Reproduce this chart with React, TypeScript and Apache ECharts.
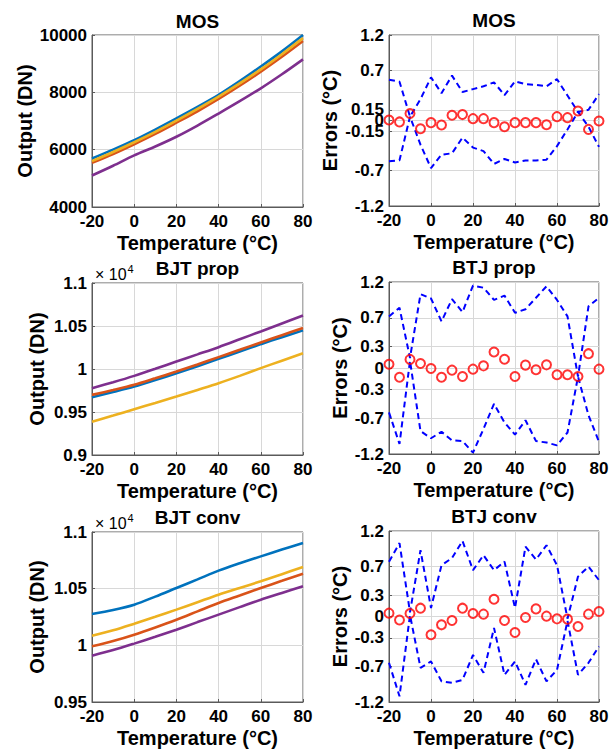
import React, { useEffect, useRef } from 'react';
import * as echarts from 'echarts';

// ---------- data ----------
const tempLine = [-20, -10, 0, 10, 20, 30, 40, 50, 60, 70, 80];
const tempErr = [-20, -15, -10, -5, 0, 5, 10, 15, 20, 25, 30, 35, 40, 45, 50, 55, 60, 65, 70, 75, 80];

// MOS output (DN)
const mosBlue = [5690, 6000, 6330, 6700, 7090, 7490, 7910, 8390, 8900, 9430, 10000];
const mosOrange = [5540, 5850, 6190, 6550, 6940, 7340, 7770, 8230, 8720, 9240, 9790];
const mosYellow = [5600, 5920, 6260, 6620, 7010, 7420, 7850, 8310, 8800, 9330, 9890];
const mosPurple = [5100, 5440, 5800, 6110, 6450, 6840, 7260, 7690, 8140, 8630, 9150];

// BJT prop output (DN)
const propBlue = [9672, 9732, 9796, 9872, 9951, 10033, 10118, 10203, 10289, 10370, 10449];
const propOrange = [9699, 9755, 9816, 9892, 9971, 10053, 10138, 10223, 10309, 10393, 10476];
const propYellow = [9388, 9458, 9532, 9605, 9680, 9757, 9835, 9920, 10010, 10097, 10184];
const propPurple = [9777, 9846, 9920, 10002, 10087, 10170, 10254, 10345, 10437, 10530, 10623];

// BJT conv output (DN)
const convBlue = [10276, 10312, 10359, 10430, 10506, 10582, 10659, 10724, 10785, 10845, 10903];
const convOrange = [9991, 10038, 10094, 10158, 10226, 10300, 10374, 10440, 10506, 10569, 10632];
const convYellow = [10085, 10133, 10191, 10252, 10315, 10381, 10447, 10506, 10565, 10628, 10691];
const convPurple = [9909, 9958, 10015, 10075, 10138, 10205, 10271, 10337, 10403, 10462, 10521];

// MOS errors (°C)
const mosErr = [0.007, -0.02, 0.097, -0.115, -0.03, -0.064, 0.073, 0.083, 0.026, 0.026, -0.03, -0.087, -0.03, -0.03, -0.03, -0.06, 0.054, 0.04, 0.134, -0.125, -0.007];
const mosUpper = [0.573, 0.545, 0.054, 0.3, 0.606, 0.384, 0.63, 0.4, 0.44, 0.48, 0.535, 0.356, 0.55, 0.51, 0.5, 0.48, 0.58, 0.35, 0.12, 0.15, 0.37];
const mosLower = [-0.573, -0.559, 0.054, -0.34, -0.667, -0.48, -0.46, -0.24, -0.38, -0.43, -0.61, -0.54, -0.59, -0.56, -0.56, -0.55, -0.36, -0.125, 0.12, -0.087, -0.37];

// BTJ prop errors (°C)
const propErr = [0.053, -0.13, 0.12, 0.062, -0.007, -0.13, -0.03, -0.118, -0.016, 0.03, 0.224, 0.122, -0.118, 0.04, -0.025, 0.044, -0.095, -0.095, -0.118, 0.2, -0.016];
const propUpper = [0.72, 0.84, 0.14, 1.03, 0.97, 0.65, 0.96, 0.78, 1.15, 1.12, 0.95, 1.01, 0.77, 0.82, 0.98, 1.14, 0.95, 0.72, -0.12, 0.86, 0.98];
const propLower = [-0.62, -1.06, 0.1, -0.88, -0.98, -0.89, -1.01, -1.02, -1.18, -0.85, -0.5, -0.76, -0.93, -0.73, -1.02, -1.04, -1.08, -0.9, -0.12, -0.66, -1.03];

// BTJ conv errors (°C)
const convErr = [0.047, -0.05, 0.042, 0.117, -0.257, -0.117, -0.056, 0.117, 0.042, 0.033, 0.243, -0.056, -0.224, -0.014, 0.107, 0.005, -0.033, -0.037, -0.14, 0.033, 0.07];
const convUpper = [0.77, 1.03, 0.06, 0.93, 0.12, 0.72, 0.82, 1.06, 0.65, 0.86, 0.65, 0.77, 0.12, 0.98, 0.8, 1.0, 0.72, -0.03, 0.56, 0.7, 0.51];
const convLower = [-0.65, -1.12, 0.02, -0.72, -0.63, -0.91, -0.93, -0.89, -0.54, -0.79, -0.16, -0.82, -0.63, -0.96, -0.6, -0.91, -0.75, -0.06, -0.82, -0.65, -0.42];

// tick labels
const xTicks = [-20, 0, 20, 40, 60, 80];
const mosErrTicks = [-1.2, -0.7, -0.15, 0, 0.15, 0.7, 1.2];
const bjtErrTicks = [-1.2, -0.7, -0.3, 0, 0.3, 0.7, 1.2];
const titles = ['MOS', 'MOS', 'BJT prop', 'BTJ prop', 'BJT conv', 'BTJ conv'];
const lineColors = ['#0072BD', '#D95319', '#EDB120', '#7E2F8E'];

const FONT = '"Liberation Sans", Arial, Helvetica, sans-serif';

export default function App() {
  const ref = useRef<HTMLDivElement>(null);

  useEffect(() => {
    if (!ref.current) return;
    const chart = echarts.init(ref.current, undefined, { renderer: 'svg' });

    const grids = [
      { left: 92, top: 35, width: 211, height: 172 },
      { left: 389, top: 35, width: 210, height: 171 },
      { left: 92, top: 283, width: 211, height: 172 },
      { left: 389, top: 282, width: 210, height: 172 },
      { left: 92, top: 532, width: 211, height: 170 },
      { left: 389, top: 531, width: 210, height: 171 },
    ].map((g) => ({ ...g, show: true, borderColor: '#5a5a5a', borderWidth: 1, backgroundColor: '#fff' }));

    const labelStyle = { fontFamily: FONT, fontWeight: 'bold' as const, fontSize: 17, color: '#000' };
    const nameStyle = { fontFamily: FONT, fontWeight: 'bold' as const, fontSize: 20, color: '#000' };
    const gridLine = { show: true, lineStyle: { color: '#d8d8d8', width: 1 } };
    const axisLine = { show: true, onZero: false, lineStyle: { color: '#5a5a5a', width: 1 } };

    const xAxes = grids.map((_, i) => ({
      type: 'value' as const,
      gridIndex: i,
      min: xTicks[0],
      max: xTicks[xTicks.length - 1],
      interval: 20,
      name: 'Temperature (°C)',
      nameLocation: 'middle' as const,
      nameGap: 26,
      nameTextStyle: nameStyle,
      axisLine,
      axisTick: { show: true, inside: true, length: 3, lineStyle: { color: '#5a5a5a' } },
      axisLabel: { ...labelStyle, margin: 6, formatter: (v: number) => String(v) },
      splitLine: gridLine,
    }));

    const yNameGaps = [57, 49, 45, 39, 45, 39];
    const yAxes: any[] = grids.map((_, i) => {
      const base: any = {
        type: 'value',
        gridIndex: i,
        nameLocation: 'middle',
        nameGap: yNameGaps[i],
        nameTextStyle: nameStyle,
        axisLine,
        axisTick: { show: true, inside: true, length: 3, lineStyle: { color: '#5a5a5a' } },
        axisLabel: { ...labelStyle, margin: 5, formatter: (v: number) => String(v) },
        splitLine: gridLine,
      };
      if (i % 2 === 0) {
        base.name = 'Output (DN)';
        if (i === 0) {
          base.min = 4000; base.max = 10000; base.interval = 2000;
        } else if (i === 2) {
          base.min = 9000; base.max = 11000; base.interval = 500;
          base.axisLabel.formatter = (v: number) => String(+(v / 10000).toFixed(2));
        } else {
          base.min = 9500; base.max = 11000; base.interval = 500;
          base.axisLabel.formatter = (v: number) => String(+(v / 10000).toFixed(2));
        }
      } else {
        base.name = 'Errors (°C)';
        base.min = -1.2; base.max = 1.2;
        const ticks = i === 1 ? mosErrTicks : bjtErrTicks;
        base.axisLabel.customValues = ticks;
        base.axisTick.customValues = ticks;
      }
      return base;
    });

    const lineSets = [
      [mosBlue, mosOrange, mosYellow, mosPurple],
      [propBlue, propOrange, propYellow, propPurple],
      [convBlue, convOrange, convYellow, convPurple],
    ];
    const errSets = [
      [mosUpper, mosLower, mosErr],
      [propUpper, propLower, propErr],
      [convUpper, convLower, convErr],
    ];

    const series: any[] = [];
    lineSets.forEach((set, r) => {
      set.forEach((vals, k) => {
        series.push({
          type: 'line',
          xAxisIndex: r * 2,
          yAxisIndex: r * 2,
          data: tempLine.map((t, j) => [t, vals[j]]),
          showSymbol: false,
          smooth: 0.3,
          lineStyle: { color: lineColors[k], width: 2.6 },
          z: 2 + k,
        });
      });
    });
    errSets.forEach((set, r) => {
      const idx = r * 2 + 1;
      [set[0], set[1]].forEach((vals) => {
        series.push({
          type: 'line',
          xAxisIndex: idx,
          yAxisIndex: idx,
          data: tempErr.map((t, j) => [t, vals[j]]),
          showSymbol: false,
          lineStyle: { color: '#0000FF', width: 2, type: [6, 4] },
          z: 2,
        });
      });
      series.push({
        type: 'scatter',
        xAxisIndex: idx,
        yAxisIndex: idx,
        data: tempErr.map((t, j) => [t, set[2][j]]),
        symbol: 'circle',
        symbolSize: 9,
        itemStyle: { color: 'rgba(0,0,0,0)', borderColor: '#FF0000', borderWidth: 2 },
        z: 3,
      });
    });

    const titlePos = [
      [197.5, 21], [494, 20], [197.5, 268], [494, 267], [197.5, 517], [494, 516],
    ];
    const graphics: any[] = titles.map((t, i) => ({
      type: 'text',
      x: titlePos[i][0],
      y: titlePos[i][1],
      style: {
        text: t,
        font: `bold 19px ${FONT}`,
        fill: '#000',
        align: 'center',
        verticalAlign: 'middle',
        textAlign: 'center',
        textVerticalAlign: 'middle',
      },
    }));
    [[274, 269], [523, 518]].forEach(([yBase, yExp]) => {
      graphics.push({
        type: 'text', x: 95, y: yBase,
        style: { text: '× 10', font: `16px ${FONT}`, fill: '#000', align: 'left', verticalAlign: 'middle', textAlign: 'left', textVerticalAlign: 'middle' },
      });
      graphics.push({
        type: 'text', x: 127.5, y: yExp,
        style: { text: '4', font: `11px ${FONT}`, fill: '#000', align: 'left', verticalAlign: 'middle', textAlign: 'left', textVerticalAlign: 'middle' },
      });
    });

    chart.setOption({
      animation: false,
      backgroundColor: '#fff',
      grid: grids,
      xAxis: xAxes,
      yAxis: yAxes,
      series,
      graphic: graphics,
    });

    return () => chart.dispose();
  }, []);

  return (
    <div
      ref={ref}
      style={{ position: 'absolute', left: 0, top: 0, width: 615, height: 753 }}
    />
  );
}
